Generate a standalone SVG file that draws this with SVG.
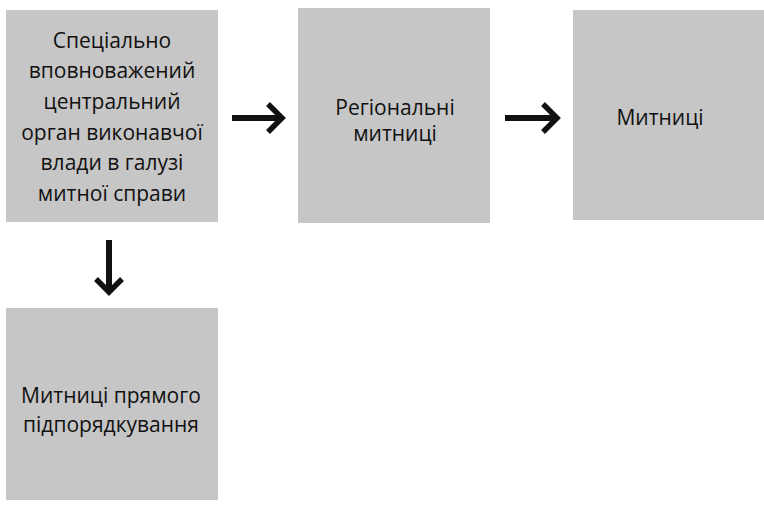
<svg xmlns="http://www.w3.org/2000/svg" width="764" height="506" viewBox="0 0 764 506">
<style>
.box{fill:#c6c6c6;}
.t{font-family:"Open Sans","DejaVu Sans",sans-serif;font-size:21px;fill:#111;text-anchor:middle;}
.c{stroke:#111;stroke-width:6;fill:none;}
.h{stroke:#111;stroke-width:5.5;fill:none;stroke-linejoin:miter;}
</style>
<rect width="764" height="506" fill="#fff"/>
<g id="node-central">
<rect class="box" x="6" y="10" width="212" height="212"/>
<text class="t" x="112" y="48">Спеціально</text>
<text class="t" x="112" y="78">вповноважений</text>
<text class="t" x="112" y="109">центральний</text>
<text class="t" x="112" y="140">орган виконавчої</text>
<text class="t" x="112" y="170">влади в галузі</text>
<text class="t" x="112" y="201">митної справи</text>
</g>
<g id="node-regional">
<rect class="box" x="298" y="8" width="192" height="215"/>
<text class="t" x="395" y="115">Регіональні</text>
<text class="t" x="395" y="141">митниці</text>
</g>
<g id="node-customs">
<rect class="box" x="573" y="10" width="191" height="210"/>
<text class="t" x="660" y="125">Митниці</text>
</g>
<g id="node-direct">
<rect class="box" x="6" y="308" width="212" height="192"/>
<text class="t" x="111" y="403">Митниці прямого</text>
<text class="t" x="111" y="432">підпорядкування</text>
</g>
<g id="connectors">
<line class="c" x1="232" y1="118" x2="279" y2="118"/>
<polyline class="h" points="268,104 282,118 268,132"/>
<line class="c" x1="505" y1="118" x2="554" y2="118"/>
<polyline class="h" points="543,104 557,118 543,132"/>
<line class="c" x1="109" y1="240" x2="109" y2="289"/>
<polyline class="h" points="96,279 109,292 122,279"/>
</g>
</svg>
